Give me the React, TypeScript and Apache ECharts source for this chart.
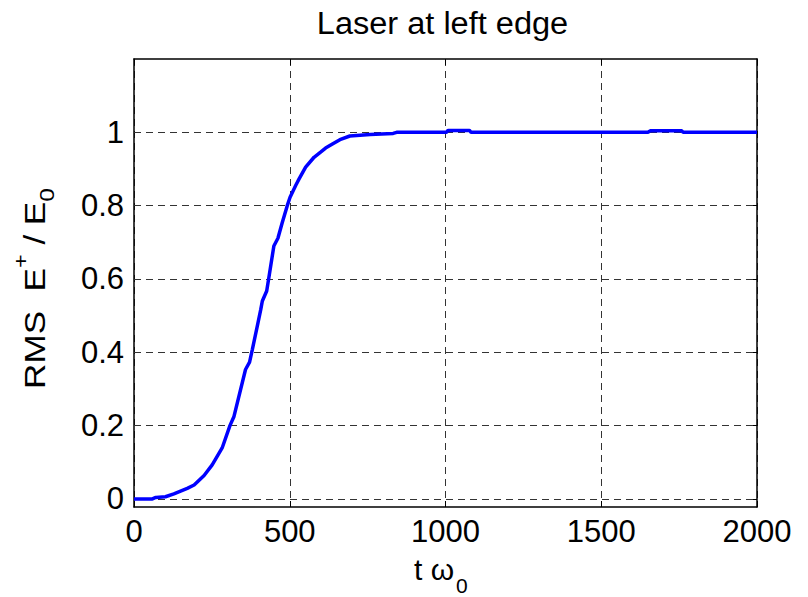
import React, { useEffect, useRef } from "react";
import * as echarts from "echarts";

const titleText = "Laser at left edge";
const xTicks = [0, 500, 1000, 1500, 2000];
const yTicks = [0, 0.2, 0.4, 0.6, 0.8, 1];
const tValues = [
  0, 59, 70, 101, 128, 171, 193, 225, 251, 283, 308, 321, 358, 371, 380, 398,
  407, 412, 426, 433, 449, 462, 476, 492, 501, 519, 530, 551, 578, 599, 615,
  637, 661, 693, 758, 832, 843, 1003, 1008, 1077, 1082, 1650, 1657, 1758, 1763,
  2000,
];
const rmsValues = [
  0, 0, 0.004, 0.006, 0.014, 0.029, 0.038, 0.064, 0.093, 0.139, 0.2, 0.225,
  0.353, 0.373, 0.408, 0.48, 0.517, 0.54, 0.567, 0.604, 0.69, 0.711, 0.754, 0.8,
  0.823, 0.855, 0.873, 0.905, 0.932, 0.946, 0.957, 0.968, 0.98, 0.99, 0.994,
  0.997, 1.0, 1.0, 1.005, 1.005, 1.0, 1.0, 1.004, 1.004, 1.0, 1.0,
];

const FONT = "'Liberation Sans', Arial, sans-serif";

export default function App() {
  const ref = useRef<HTMLDivElement>(null);
  useEffect(() => {
    const chart = echarts.init(ref.current!, null, { renderer: "svg" });
    const data = tValues.map((t, i) => [t, rmsValues[i]]);
    const fmt = (v: number) => String(v);
    const xMin = xTicks[0];
    const xMax = xTicks[xTicks.length - 1];
    const yMin = -0.022;
    const yMax = 1.2;
    const boxLine = { show: true, onZero: false, lineStyle: { color: "#000", width: 1.5 } };
    const tick = { show: true, inside: true, length: 6, lineStyle: { color: "#000", width: 1 } };
    const gridDash = { type: [7, 5], color: "#333", width: 1 };
    chart.setOption({
      animation: false,
      backgroundColor: "#fff",
      grid: { left: 134, top: 59, right: 51, bottom: 90, containLabel: false, outerBoundsMode: "none" },
      xAxis: [
        {
          type: "value", min: xMin, max: xMax, interval: 500, position: "bottom",
          axisLine: boxLine, axisTick: tick,
          axisLabel: { formatter: fmt, fontSize: 31, color: "#000", margin: 9, fontFamily: FONT },
          splitLine: { show: true, lineStyle: gridDash },
        },
        {
          type: "value", min: xMin, max: xMax, interval: 500, position: "top",
          axisLine: boxLine, axisTick: tick, axisLabel: { show: false }, splitLine: { show: false },
        },
      ],
      yAxis: [
        {
          type: "value", min: yMin, max: yMax, position: "left",
          axisLine: boxLine, axisTick: { ...tick, customValues: yTicks },
          axisLabel: { customValues: yTicks, formatter: fmt, fontSize: 31, color: "#000", margin: 10, fontFamily: FONT },
          splitLine: { show: false },
        },
        {
          type: "value", min: yMin, max: yMax, position: "right",
          axisLine: boxLine, axisTick: { ...tick, customValues: yTicks },
          axisLabel: { show: false }, splitLine: { show: false },
        },
      ],
      series: [
        {
          type: "line", data: [], z: 1, silent: true,
          markLine: {
            silent: true, symbol: "none", label: { show: false },
            lineStyle: gridDash, animation: false,
            data: yTicks.map((v) => ({ yAxis: v })),
          },
        },
        {
          type: "line", data, z: 5, showSymbol: false, symbol: "none", clip: true,
          lineStyle: { color: "#0000ff", width: 3.5 },
        },
      ],
      graphic: [
        {
          type: "text", x: 442.5, y: 23, scaleX: 1.05,
          style: { text: titleText, fontSize: 31, fontFamily: FONT, fill: "#000", align: "center", verticalAlign: "middle" },
        },
        {
          type: "text", x: 34, y: 288.5, rotation: Math.PI / 2, scaleX: 1.17,
          style: {
            text: "{m|RMS  E}{sup|+}{m| / E}{sub|0}",
            align: "center", verticalAlign: "middle", fill: "#000", fontFamily: FONT,
            rich: {
              m: { fontSize: 30, fontFamily: FONT, lineHeight: 46, verticalAlign: "middle" },
              sup: { fontSize: 20, fontFamily: FONT, lineHeight: 20, verticalAlign: "top" },
              sub: { fontSize: 21, fontFamily: FONT, lineHeight: 21, verticalAlign: "bottom" },
            },
          },
        },
        {
          type: "text", x: 414, y: 569.6,
          style: { text: "t ω", fontSize: 30, fontFamily: FONT, fill: "#000", align: "left", verticalAlign: "middle" },
        },
        {
          type: "text", x: 456, y: 585.5,
          style: { text: "0", fontSize: 21, fontFamily: FONT, fill: "#000", align: "left", verticalAlign: "middle" },
        },
      ],
    });
    return () => chart.dispose();
  }, []);
  return (
    <div
      ref={ref}
      style={{ position: "fixed", left: 0, top: 0, width: 808, height: 597 }}
    />
  );
}
